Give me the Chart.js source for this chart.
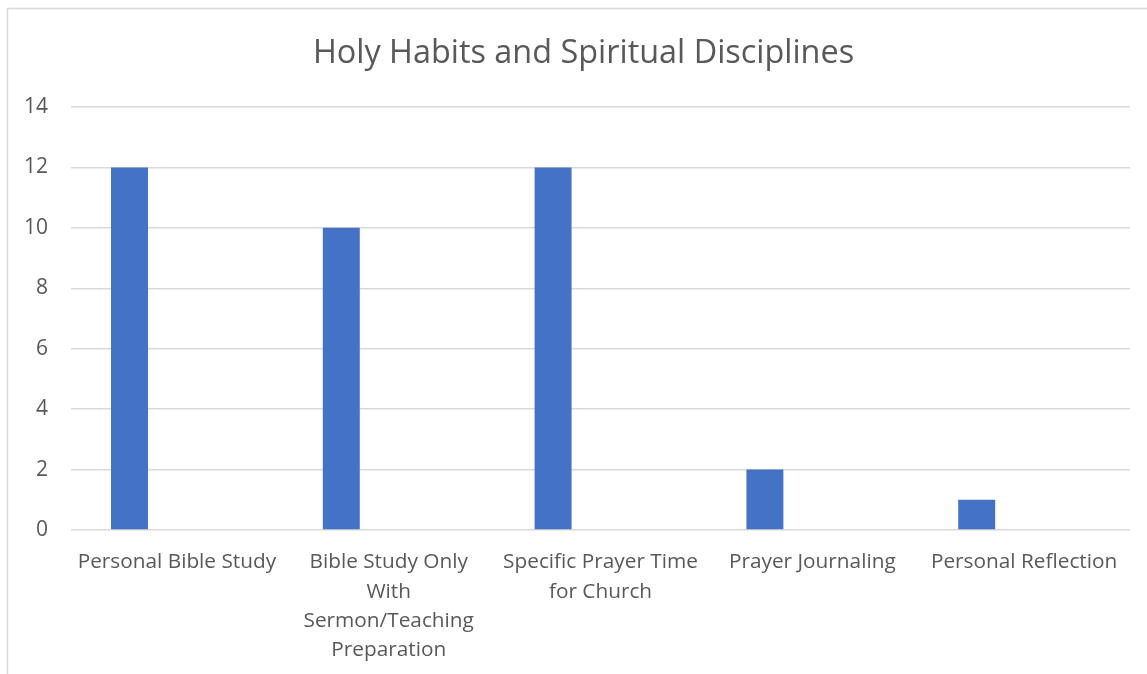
<!DOCTYPE html>
<html>
<head>
<meta charset="utf-8">
<script src="https://cdn.jsdelivr.net/npm/chart.js@4/dist/chart.umd.min.js"></script>
<style>
  html, body { margin: 0; padding: 0; background: #ffffff; }
  #wrap { width: 1147px; height: 674px; position: relative; }
</style>
</head>
<body>
<div id="wrap"><canvas id="c"></canvas></div>
<script>
const chartTitle = "Holy Habits and Spiritual Disciplines";
const categories = [
  "Personal Bible Study",
  ["Bible Study Only", "With", "Sermon/Teaching", "Preparation"],
  ["Specific Prayer Time", "for Church"],
  "Prayer Journaling",
  "Personal Reflection"
];
const seriesValues = [12, 10, 12, 2, 1];
const emptySeries = [null, null, null, null, null];
const yTicks = { min: 0, max: 14, step: 2 };

const borderPlugin = {
  id: 'outerBorder',
  beforeDraw(chart) {
    const ctx = chart.ctx;
    ctx.save();
    ctx.fillStyle = '#ffffff';
    ctx.fillRect(0, 0, chart.width, chart.height);
    ctx.strokeStyle = '#d9d9d9';
    ctx.lineWidth = 1.5;
    ctx.strokeRect(7.5, 8.5, 1400, 1000);
    ctx.restore();
  }
};

new Chart(document.getElementById('c'), {
  type: 'bar',
  data: {
    labels: categories,
    datasets: [
      { label: 'Series 1', data: seriesValues, backgroundColor: '#4472C4', categoryPercentage: 0.8952, barPercentage: 0.39 },
      { label: 'Series 2', data: emptySeries, backgroundColor: '#ED7D31', categoryPercentage: 0.8952, barPercentage: 0.39 }
    ]
  },
  options: {
    responsive: true,
    maintainAspectRatio: false,
    animation: false,
    layout: { padding: { left: 20, right: 0, top: 0, bottom: 0 } },
    plugins: {
      legend: { display: false },
      tooltip: { enabled: false },
      title: {
        display: true,
        text: chartTitle,
        color: '#595959',
        font: { family: 'Open Sans', size: 32.4, weight: 'normal', lineHeight: 1.2 },
        padding: { top: 34.6, bottom: 33.5 }
      }
    },
    scales: {
      x: {
        grid: { display: false, drawTicks: false },
        border: { display: false },
        ticks: {
          color: '#595959',
          font: { family: 'Open Sans', size: 20.8, lineHeight: 1.4 },
          padding: 18,
          maxRotation: 0,
          autoSkip: false
        },
        afterFit(scale) { scale.height = 144; }
      },
      y: {
        min: yTicks.min,
        max: yTicks.max,
        grid: { color: '#d9d9d9', lineWidth: 1.5, drawTicks: false },
        border: { display: false },
        ticks: {
          stepSize: yTicks.step,
          color: '#595959',
          font: { family: 'Open Sans', size: 21 },
          padding: 23
        },
        afterFit(scale) { scale.width = 51; }
      },
      yRightSpace: {
        type: 'linear',
        position: 'right',
        display: true,
        grid: { display: false, drawTicks: false },
        border: { display: false },
        ticks: { display: false },
        afterFit(scale) { scale.width = 17; }
      }
    }
  },
  plugins: [borderPlugin]
});
</script>
</body>
</html>
